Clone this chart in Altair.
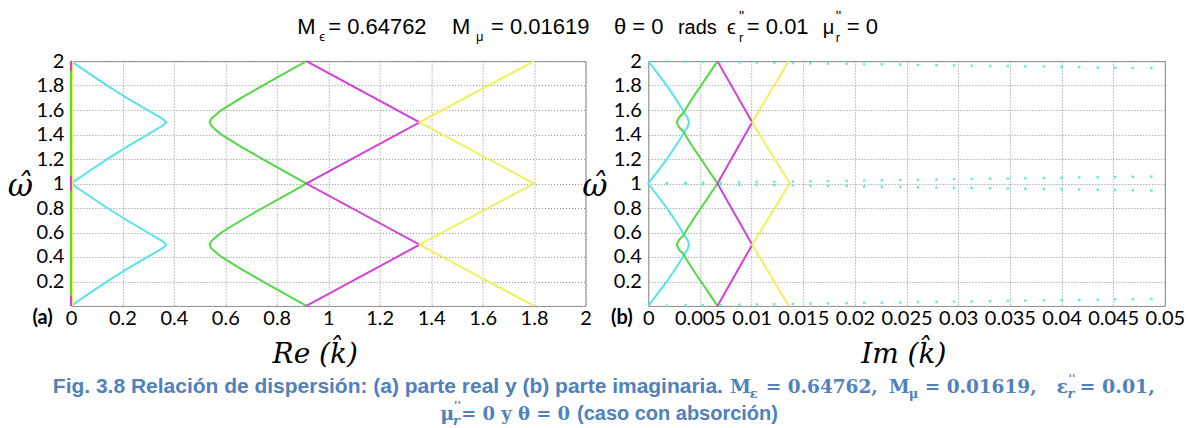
import altair as alt
import pandas as pd

# ---------------------------------------------------------------
# Dispersion relation: real (a) and imaginary (b) part of k-hat
# ---------------------------------------------------------------

SERIES = ["cyan", "green", "magenta", "yellow"]
COLORS = ["#57e3ec", "#52d944", "#d63fd8", "#f0f05a"]

# (a) Re(k) branches, frequency samples along each branch
W_RE = [0, 0.1, 0.2, 0.3, 0.4, 0.44, 0.47, 0.5, 0.53, 0.56, 0.6, 0.7, 0.8, 0.9, 1.0,
        1.1, 1.2, 1.3, 1.4, 1.44, 1.47, 1.5, 1.53, 1.56, 1.6, 1.7, 1.8, 1.9, 2.0]
RE_CYAN = [0, 0.07, 0.141, 0.217, 0.298, 0.33, 0.355, 0.371, 0.355, 0.33, 0.298, 0.217, 0.141, 0.07, 0,
           0.07, 0.141, 0.217, 0.298, 0.33, 0.355, 0.371, 0.355, 0.33, 0.298, 0.217, 0.141, 0.07, 0]
RE_GREEN = [0.915, 0.83, 0.745, 0.662, 0.585, 0.562, 0.546, 0.539, 0.546, 0.562, 0.585, 0.662, 0.745, 0.83, 0.915,
            0.83, 0.745, 0.662, 0.585, 0.562, 0.546, 0.539, 0.546, 0.562, 0.585, 0.662, 0.745, 0.83, 0.915]
W_KINK = [0, 0.5, 1.0, 1.5, 2.0]
RE_MAGENTA = [0.915, 1.355, 0.915, 1.355, 0.915]
RE_YELLOW = [1.8, 1.355, 1.8, 1.355, 1.8]

# branches lying on Re(k) = 0
EDGE_FULL_W = [0, 2.0]
EDGE_MAGENTA_W = [[0, 0.08], [0.94, 1.06], [1.92, 2.0]]

# (b) Im(k) branches
W_IM = [0, 0.1, 0.2, 0.3, 0.38, 0.42, 0.46, 0.5, 0.54, 0.58, 0.62, 0.7, 0.8, 0.9, 1.0,
        1.1, 1.2, 1.3, 1.38, 1.42, 1.46, 1.5, 1.54, 1.58, 1.62, 1.7, 1.8, 1.9, 2.0]
IM_CYAN = [0, 0.0009, 0.0018, 0.0026, 0.0032, 0.00345, 0.0038, 0.00395, 0.0038, 0.00345, 0.0032, 0.0026, 0.0018, 0.0009, 0,
           0.0009, 0.0018, 0.0026, 0.0032, 0.00345, 0.0038, 0.00395, 0.0038, 0.00345, 0.0032, 0.0026, 0.0018, 0.0009, 0]
IM_GREEN = [0.0067, 0.0059, 0.0051, 0.0043, 0.0037, 0.00345, 0.00298, 0.00276, 0.00298, 0.00345, 0.0037, 0.0043, 0.0051, 0.0059, 0.0067,
            0.0059, 0.0051, 0.0043, 0.0037, 0.00345, 0.00298, 0.00276, 0.00298, 0.00345, 0.0037, 0.0043, 0.0051, 0.0059, 0.0067]
IM_MAGENTA = [0.0067, 0.01006, 0.0067, 0.01006, 0.0067]
IM_YELLOW = [0.0136, 0.01006, 0.0137, 0.01006, 0.0136]

# scattered evanescent samples near the band edges
DOT_IM = [0.0018, 0.0036, 0.0053, 0.0070, 0.0088, 0.0105, 0.0122, 0.0140, 0.0157, 0.0174,
          0.0192, 0.0209, 0.0226, 0.0244, 0.0261, 0.0279, 0.0296, 0.0313, 0.0331, 0.0348,
          0.0365, 0.0383, 0.0400, 0.0417, 0.0435, 0.0452, 0.0469, 0.0487]
DOT_TOP = [1.998, 1.996, 1.994, 1.992, 1.990, 1.988, 1.986, 1.984, 1.982, 1.980,
           1.978, 1.976, 1.974, 1.972, 1.969, 1.967, 1.965, 1.963, 1.961, 1.959,
           1.957, 1.955, 1.953, 1.951, 1.949, 1.947, 1.945, 1.943]
DOT_MID_HI = [1.002, 1.004, 1.006, 1.008, 1.010, 1.012, 1.014, 1.016, 1.018, 1.020,
              1.022, 1.024, 1.026, 1.028, 1.031, 1.033, 1.035, 1.037, 1.039, 1.041,
              1.043, 1.045, 1.047, 1.049, 1.051, 1.053, 1.055, 1.057]
DOT_MID_LO = [0.998, 0.996, 0.994, 0.992, 0.990, 0.988, 0.986, 0.984, 0.982, 0.980,
              0.978, 0.976, 0.974, 0.972, 0.969, 0.967, 0.965, 0.963, 0.961, 0.959,
              0.957, 0.955, 0.953, 0.951, 0.949, 0.947, 0.945, 0.943]
DOT_LOW = [0.002, 0.004, 0.006, 0.008, 0.010, 0.012, 0.014, 0.016, 0.018, 0.020,
           0.022, 0.024, 0.026, 0.028, 0.031, 0.033, 0.035, 0.037, 0.039, 0.041,
           0.043, 0.045, 0.047, 0.049, 0.051, 0.053, 0.055, 0.057]

# tick values
X_TICKS_RE = [0, 0.2, 0.4, 0.6, 0.8, 1, 1.2, 1.4, 1.6, 1.8, 2]
X_TICKS_IM = [0, 0.005, 0.01, 0.015, 0.02, 0.025, 0.03, 0.035, 0.04, 0.045, 0.05]
Y_TICKS = [0.2, 0.4, 0.6, 0.8, 1, 1.2, 1.4, 1.6, 1.8, 2]

# ---------------------------------------------------------------
# layout constants (page pixels)
PLOT_W_L, PLOT_W_R, PLOT_H = 515, 517, 245
OX, OY = 70.5, 60.0          # top-left corner of panel (a)
GAP = 62.8
PAGE_W, PAGE_H = 1189, 428

CAPTION_BLUE = "#4f81bd"
SANS = "Liberation Sans"
LABEL_FONT = "Lato"
MATH = "DejaVu Serif"
ITALIC_SERIF = "DejaVu Serif"


def branches(w_list, v_list, name):
    return pd.DataFrame({"w": w_list, "v": v_list, "s": name, "seg": name,
                         "i": list(range(len(w_list)))})


color = alt.Color("s:N", scale=alt.Scale(domain=SERIES, range=COLORS), legend=None)


def note(text, x, y, size, font, color="black", weight="normal", style="normal",
         align="left", baseline="alphabetic"):
    return alt.Chart(pd.DataFrame({"t": [text]})).mark_text(
        align=align, baseline=baseline, font=font, fontSize=size,
        fontWeight=weight, fontStyle=style, color=color,
    ).encode(text="t:N", x=alt.value(x - OX), y=alt.value(y - OY))


def cap(text, x, y, size=21, align="left"):
    return note(text, x, y, size, SANS, color=CAPTION_BLUE, weight="bold", align=align)


def cap_math(text, x, y, size=19, style="normal", align="left"):
    return note(text, x, y, size, MATH, color=CAPTION_BLUE, weight="bold", style=style, align=align)


# ---------------- panel (a) ----------------
re_df = pd.concat([
    branches(W_RE, RE_CYAN, "cyan"),
    branches(W_RE, RE_GREEN, "green"),
    branches(W_KINK, RE_MAGENTA, "magenta"),
    branches(W_KINK, RE_YELLOW, "yellow"),
], ignore_index=True)

x_re = alt.X("v:Q", scale=alt.Scale(domain=[0, 2], nice=False, zero=False),
             axis=alt.Axis(values=X_TICKS_RE, format="~g", title=None))
y_w = alt.Y("w:Q", scale=alt.Scale(domain=[0, 2], nice=False, zero=False),
            axis=alt.Axis(values=Y_TICKS, format="~g", title=None))

re_lines = alt.Chart(re_df).mark_line(strokeWidth=2).encode(
    x=x_re, y=y_w, color=color, detail="seg:N", order="i:Q")

edge_yellow = alt.Chart(branches(EDGE_FULL_W, [0, 0], "yellow")).mark_line(
    strokeWidth=2, xOffset=1.5).encode(x=x_re, y=y_w, color=color, order="i:Q")
edge_green = alt.Chart(branches(EDGE_FULL_W, [0, 0], "green")).mark_line(
    strokeWidth=2).encode(x=x_re, y=y_w, color=color, order="i:Q")
mag_parts = []
for n, seg in enumerate(EDGE_MAGENTA_W):
    d = branches(seg, [0, 0], "magenta")
    d["seg"] = f"m{n}"
    mag_parts.append(d)
edge_magenta = alt.Chart(pd.concat(mag_parts, ignore_index=True)).mark_line(
    strokeWidth=2).encode(x=x_re, y=y_w, color=color, detail="seg:N", order="i:Q")

# invisible page frame, fixes the drawing extent
page = alt.Chart(pd.DataFrame({"t": [0]})).mark_rect(opacity=0).encode(
    x=alt.value(-OX), x2=alt.value(PAGE_W - OX),
    y=alt.value(-OY), y2=alt.value(PAGE_H - OY))

notes = [
    # header
    note("M", 297, 33, 22, SANS),
    note("\u03f5", 319, 40, 13, SANS),
    note("= 0.64762", 328, 33, 22, SANS),
    note("M", 452, 33, 22, SANS),
    note("\u03bc", 476, 40, 13, SANS),
    note("= 0.01619", 491, 33, 22, SANS),
    note("\u03b8 =  0", 614, 33, 22, SANS),
    note("rads", 678, 33, 20, SANS),
    note("\u03f5", 727, 33, 20, SANS),
    note("''", 739, 20, 14, SANS),
    note("r", 739, 41, 13, SANS),
    note("=  0.01", 747, 33, 22, SANS),
    note("\u03bc", 823, 33, 20, SANS),
    note("''", 836, 20, 14, SANS),
    note("r", 836, 41, 13, SANS),
    note("=  0", 847, 33, 22, SANS),
    # panel tags
    note("(a)", 32, 307, 20, LABEL_FONT, weight="bold", baseline="top"),
    note("(b)", 611, 307, 20, LABEL_FONT, weight="bold", baseline="top"),
    # axis titles
    note("\u03c9\u0302", 20, 186, 31, ITALIC_SERIF, style="italic", align="center", baseline="middle"),
    note("\u03c9\u0302", 595, 186, 31, ITALIC_SERIF, style="italic", align="center", baseline="middle"),
    note("Re (k\u0302)", 315, 362, 28, ITALIC_SERIF, style="italic", align="center"),
    note("Im (k\u0302)", 904, 362, 28, ITALIC_SERIF, style="italic", align="center"),
    # caption, line 1
    cap("Fig. 3.8 Relación de dispersión: (a) parte real y (b) parte imaginaria.", 723, 392, align="right"),
    cap_math("M", 730, 392),
    cap_math("\u03b5", 750, 397, size=13),
    cap_math("= 0.64762,", 766, 392, size=18.5),
    cap_math("M", 889, 392),
    cap_math("\u03bc", 909, 397, size=13),
    cap_math("= 0.01619,", 925, 392, size=18.5),
    cap_math("\u03b5", 1057, 392),
    cap_math("r", 1068, 397, size=13, style="italic"),
    cap_math("''", 1069, 381, size=11),
    cap_math("= 0.01,", 1080, 392),
    # caption, line 2
    cap_math("\u03bc", 440, 419),
    cap_math("r", 453, 424, size=13, style="italic"),
    cap_math("''", 454, 408, size=11),
    cap_math("= 0 y  \u03b8 = 0", 570, 419, size=18, align="right"),
    cap("(caso con absorción)", 577, 419, size=20),
]

panel_a = alt.layer(page, re_lines, edge_yellow, edge_green, edge_magenta, *notes).properties(
    width=PLOT_W_L, height=PLOT_H)

# ---------------- panel (b) ----------------
im_df = pd.concat([
    branches(W_IM, IM_CYAN, "cyan"),
    branches(W_IM, IM_GREEN, "green"),
    branches(W_KINK, IM_MAGENTA, "magenta"),
    branches(W_KINK, IM_YELLOW, "yellow"),
], ignore_index=True)

x_im = alt.X("v:Q", scale=alt.Scale(domain=[0, 0.05], nice=False, zero=False),
             axis=alt.Axis(values=X_TICKS_IM, format="~g", title=None))

im_lines = alt.Chart(im_df).mark_line(strokeWidth=2).encode(
    x=x_im, y=y_w, color=color, detail="seg:N", order="i:Q")

dots_df = pd.concat([
    pd.DataFrame({"v": DOT_IM, "w": DOT_TOP}),
    pd.DataFrame({"v": DOT_IM, "w": DOT_MID_HI}),
    pd.DataFrame({"v": DOT_IM, "w": DOT_MID_LO}),
    pd.DataFrame({"v": DOT_IM, "w": DOT_LOW}),
], ignore_index=True)
dots = alt.Chart(dots_df).mark_square(size=6, color=COLORS[0], opacity=0.9).encode(
    x=x_im, y=y_w)

panel_b = alt.layer(im_lines, dots).properties(width=PLOT_W_R, height=PLOT_H)

chart = alt.hconcat(panel_a, panel_b, spacing=GAP, bounds="flush").properties(
    padding=0, background="white"
).configure_view(
    stroke="#8c8c8c", strokeWidth=1
).configure_axis(
    labelFont=LABEL_FONT, labelFontSize=20, labelColor="black",
    grid=True, gridColor="#8a8a8a", gridDash=[1, 2], gridWidth=1,
    domain=False, ticks=False, labelOverlap=False, labelFlush=False,
).configure_axisX(labelPadding=3).configure_axisY(labelPadding=7)

chart.save("out.html", embed_options={"renderer": "svg", "actions": False})
